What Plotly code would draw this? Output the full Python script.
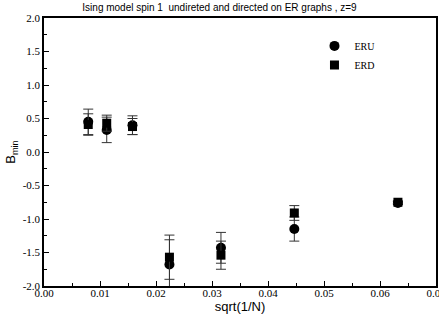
import plotly.graph_objects as go

x_vals = [0.0079, 0.0112, 0.0158, 0.0224, 0.0316, 0.0447, 0.0632]
eru_vals = [0.45, 0.33, 0.40, -1.68, -1.43, -1.15, -0.76]
eru_err = [0.19, 0.19, 0.14, 0.37, 0.23, 0.18, 0.02]
erd_vals = [0.41, 0.43, 0.38, -1.57, -1.54, -0.91, -0.75]
erd_err = [0.16, 0.12, 0.12, 0.33, 0.21, 0.11, 0.02]

x_ticks = [0.00, 0.01, 0.02, 0.03, 0.04, 0.05, 0.06, 0.07]
x_tick_text = ["0.00", "0.01", "0.02", "0.03", "0.04", "0.05", "0.06", "0.07"]
y_ticks = [-2.0, -1.5, -1.0, -0.5, 0.0, 0.5, 1.0, 1.5, 2.0]
y_tick_text = ["-2.0", "-1.5", "-1.0", "-0.5", "0.0", "0.5", "1.0", "1.5", "2.0"]

fig = go.Figure()
fig.add_trace(go.Scatter(
    x=x_vals, y=eru_vals, mode="markers", name="ERU",
    marker=dict(symbol="circle", size=10, color="black"),
    error_y=dict(type="data", array=eru_err, color="#333", thickness=1, width=5),
))
fig.add_trace(go.Scatter(
    x=x_vals, y=erd_vals, mode="markers", name="ERD",
    marker=dict(symbol="square", size=9, color="black"),
    error_y=dict(type="data", array=erd_err, color="#333", thickness=1, width=5),
))

fig.update_layout(
    width=439, height=319,
    margin=dict(l=44, r=3, t=18, b=33, autoexpand=False),
    paper_bgcolor="white", plot_bgcolor="white",
    title=dict(text="Ising model spin 1  undireted and directed on ER graphs , z=9",
               x=0.5, xanchor="center", y=0.988, yanchor="top", automargin=False,
               font=dict(family="Liberation Sans, Arial", size=10, color="black")),
    showlegend=True,
    legend=dict(x=0.69, y=0.95, xanchor="left", yanchor="top",
                bgcolor="rgba(0,0,0,0)", itemwidth=30, tracegroupgap=0,
                font=dict(family="Liberation Serif, Times New Roman", size=10, color="black")),
    font=dict(family="Liberation Serif, Times New Roman", size=11, color="black"),
)
fig.update_xaxes(
    range=[0, 0.07], tickvals=x_ticks, ticktext=x_tick_text, automargin=False,
    ticklabeloverflow="allow", ticklabelstandoff=-4,
    ticks="inside", ticklen=5, tickcolor="black", showgrid=False, zeroline=False,
    showline=True, linecolor="black", linewidth=1.5, mirror=True,
    minor=dict(dtick=0.005, tick0=0, ticks="inside", ticklen=3, tickcolor="black", showgrid=False),
    title=dict(text="sqrt(1/N)", standoff=0,
               font=dict(family="Liberation Sans, Arial", size=13, color="black")),
    tickfont=dict(family="Liberation Serif, Times New Roman", size=11, color="black"),
)
fig.update_yaxes(
    range=[-2, 2], tickvals=y_ticks, ticktext=y_tick_text, automargin=False,
    ticklabeloverflow="allow",
    ticks="inside", ticklen=5, tickcolor="black", showgrid=False, zeroline=False,
    showline=True, linecolor="black", linewidth=1.5, mirror=True,
    minor=dict(dtick=0.25, tick0=0, ticks="inside", ticklen=3, tickcolor="black", showgrid=False),
    title=dict(text="B<sub>min</sub>", standoff=4,
               font=dict(family="Liberation Sans, Arial", size=13, color="black")),
    tickfont=dict(family="Liberation Serif, Times New Roman", size=11, color="black"),
)

fig.write_html("out.html", config={"displayModeBar": False},
               post_script="document.body.style.margin='0';")
